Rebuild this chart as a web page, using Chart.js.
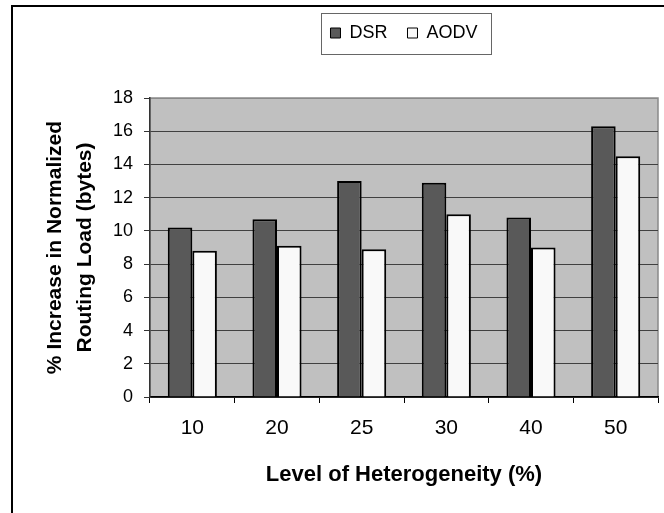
<!DOCTYPE html>
<html>
<head>
    <title>Normalized Routing Load</title>
    <script src="https://cdn.jsdelivr.net/npm/chart.js"></script>
    <style>
        body { margin: 0; background: #fff; overflow: hidden; }
        #wrap { position: relative; width: 664px; height: 513px; overflow: hidden; }
        #frame { position: absolute; left: 11px; top: 5px; width: 700px; height: 600px;
                 border-top: 2.5px solid #000; border-left: 2.5px solid #000; }
        #c { position: absolute; left: 0; top: 0; }
    </style>
</head>
<body>
<div id="wrap">
    <div id="frame"></div>
    <canvas id="c" width="664" height="513"></canvas>
</div>

<script>
    // data
    var levels = ["10", "20", "25", "30", "40", "50"];
    var dsr = [10.2, 10.7, 13.0, 12.9, 10.8, 16.3];
    var aodv = [8.8, 9.1, 8.9, 11.0, 9.0, 14.5];
    var yMin = 0, yMax = 18, yStep = 2;

    var font = "'Liberation Sans', Arial, sans-serif";

    // grey plot background with thin grey frame
    var plotBg = {
        id: "plotBg",
        beforeDraw: function(chart) {
            var a = chart.chartArea, ctx = chart.ctx;
            ctx.save();
            ctx.fillStyle = "#c0c0c0";
            ctx.fillRect(a.left, a.top, a.right - a.left, a.bottom - a.top);
            ctx.strokeStyle = "#8a8a8a";
            ctx.lineWidth = 1.5;
            ctx.strokeRect(a.left, a.top, a.right - a.left, a.bottom - a.top);
            ctx.restore();
        }
    };

    // extra room under the legend
    var legendSpacer = {
        id: "legendSpacer",
        beforeInit: function(chart) {
            var fit = chart.legend.fit;
            chart.legend.fit = function() {
                fit.bind(chart.legend)();
                this.height += 46;
            };
        }
    };

    // box around the legend
    var legendBox = {
        id: "legendBox",
        afterDraw: function(chart) {
            var hb = chart.legend.legendHitBoxes;
            if (!hb || !hb.length) return;
            var x1 = Math.min.apply(null, hb.map(h => h.left)) - 9;
            var x2 = Math.max.apply(null, hb.map(h => h.left + h.width)) + 14;
            var cy = hb[0].top + hb[0].height / 2;
            var ctx = chart.ctx;
            ctx.save();
            ctx.strokeStyle = "#666";
            ctx.lineWidth = 1;
            ctx.strokeRect(Math.round(x1) + 0.5, Math.round(cy - 20.5) + 0.5, Math.round(x2 - x1), 41);
            ctx.restore();
        }
    };

    var ctx = document.getElementById("c").getContext("2d");
    var chart = new Chart(ctx, {
        type: "bar",
        data: {
            labels: levels,
            datasets: [{
                label: "DSR",
                data: dsr,
                backgroundColor: "#595959",
                borderColor: "#000",
                borderWidth: 2
            }, {
                label: "AODV",
                data: aodv,
                backgroundColor: "#f9f9f9",
                borderColor: "#000",
                borderWidth: 2
            }]
        },
        options: {
            responsive: false,
            animation: false,
            categoryPercentage: 0.58,
            barPercentage: 1.0,
            layout: { padding: { left: 14, right: 6, top: 4, bottom: 0 } },
            plugins: {
                tooltip: { enabled: false },
                legend: {
                    position: "top",
                    fullSize: false,
                    labels: {
                        color: "#000",
                        font: { family: font, size: 18 },
                        boxWidth: 10,
                        boxHeight: 10,
                        padding: 20,
                        generateLabels: function(chart) {
                            var items = Chart.defaults.plugins.legend.labels.generateLabels(chart);
                            items.forEach(it => it.lineWidth = 1);
                            return items;
                        }
                    }
                }
            },
            scales: {
                x: {
                    grid: { display: true, drawOnChartArea: false, drawTicks: true, tickLength: 6, tickColor: "#000", offset: true },
                    border: { color: "#000", width: 1.5 },
                    ticks: { color: "#000", font: { family: font, size: 21 }, padding: 13 },
                    title: {
                        display: true,
                        text: "Level of Heterogeneity (%)",
                        color: "#000",
                        font: { family: font, size: 22, weight: "bold" },
                        padding: { top: 0, bottom: 25 }
                    },
                    afterFit: function(scale) { scale.height = 116; }
                },
                y: {
                    min: yMin,
                    max: yMax,
                    grid: {
                        color: ctx => ctx.tick && ctx.tick.value === yMax ? "#8a8a8a" : "#404040",
                        lineWidth: 1,
                        tickLength: 6,
                        tickColor: "#333"
                    },
                    border: { color: "#333", width: 1.5 },
                    ticks: { stepSize: yStep, color: "#000", font: { family: font, size: 18 }, padding: 11 },
                    title: {
                        display: true,
                        text: ["% Increase in Normalized", "Routing Load (bytes)"],
                        color: "#000",
                        font: { family: font, size: 21, weight: "bold", lineHeight: 1.4 },
                        padding: { top: 27, bottom: 0 }
                    },
                    afterFit: function(scale) { scale.width = 136; }
                }
            }
        },
        plugins: [plotBg, legendSpacer, legendBox]
    });
</script>
</body>
</html>
